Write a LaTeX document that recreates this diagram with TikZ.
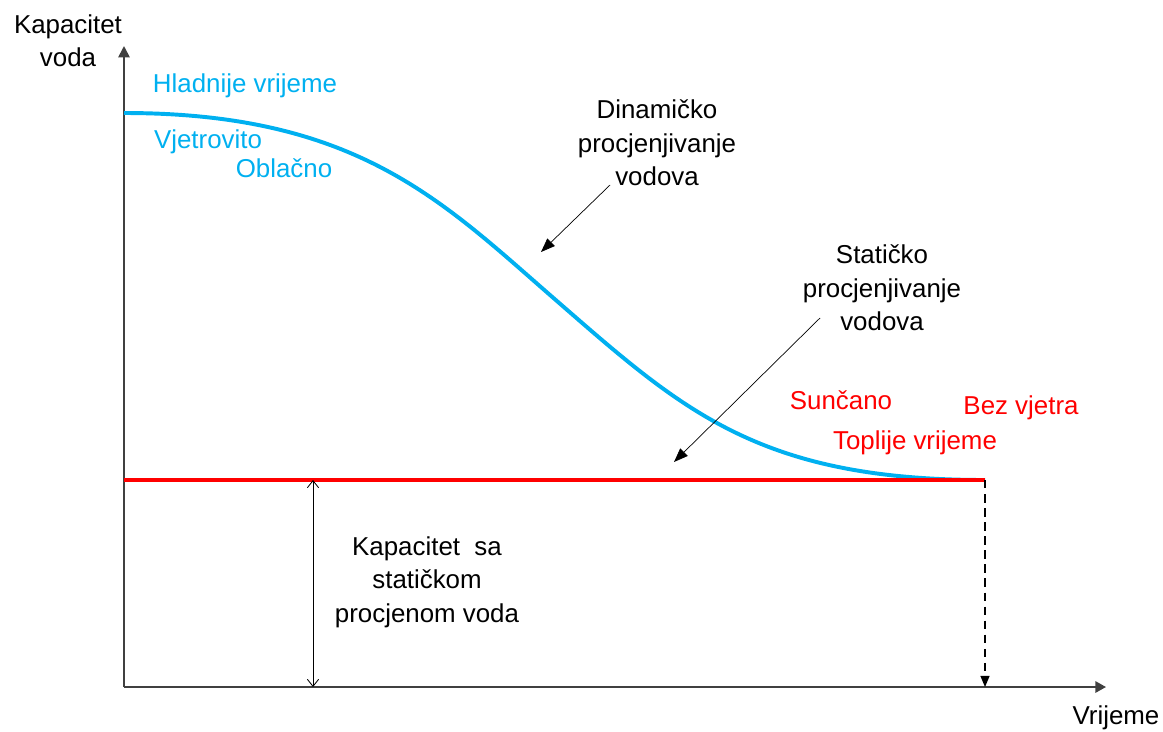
\documentclass[tikz,border=0pt]{standalone}
\usepackage{fontspec}
\setmainfont{Liberation Sans}
\usetikzlibrary{arrows.meta}
\definecolor{nebo}{HTML}{00B0F0}
\definecolor{osa}{HTML}{404040}

\begin{document}
\begin{tikzpicture}[x=0.025cm,y=-0.025cm,
    lbl/.style={font=\fontsize{18.4}{23.7}\selectfont,align=center,inner sep=0pt},
    pokaz/.style={-{Triangle[length=10pt,width=7.5pt]},line width=0.5pt}]
  \useasboundingbox (0,0) rectangle (1163,731);
  % osi
  \coordinate (o) at (124,687);
  \coordinate (ytop) at (124,46);
  \coordinate (xend) at (1106,687);
  \draw[osa,line width=1.2pt,-{Triangle[length=8pt,width=8pt]}] (o) -- (ytop);
  \draw[osa,line width=1.4pt,-{Triangle[length=7.5pt,width=8pt]}] (o) -- (xend);
  \node[lbl] (ylab) at (68,41) {Kapacitet\\voda};
  \node[lbl] (xlab) at (1116,718) {Vrijeme};
  % krivulje
  \coordinate (k0) at (124,113);
  \coordinate (k1) at (985,480);
  \coordinate (r0) at (124,480);
  \draw[nebo,line width=2.8pt] (k0) .. controls (354,113) and (440,199) .. (550,295)
    .. controls (680,408) and (755,480) .. (k1);
  \draw[red,line width=2.5pt] (r0) -- (k1);
  \draw[dashed,line width=0.8pt,dash pattern=on 6pt off 4pt,-{Triangle[length=8pt,width=6.5pt]}]
    (k1) -- (k1 |- o);
  % kapacitet sa staticnom procjenom
  \coordinate (d0) at (313,480);
  \draw[line width=0.6pt,{Straight Barb[length=5pt,width=8pt]}-{Straight Barb[length=5pt,width=8pt]}]
    (d0) -- (d0 |- o);
  \node[lbl] (stat) at (427,582) {Kapacitet\ \ sa\\statičkom\\procjenom voda};
  % oznake
  \node[lbl,nebo] (hlad) at (245,86) {Hladnije vrijeme};
  \node[lbl,nebo] (vjet) at (208,142) {Vjetrovito};
  \node[lbl,nebo] (obla) at (284,168) {Oblačno};
  \node[lbl,red] (sunc) at (841,400) {Sunčano};
  \node[lbl,red] (bezv) at (1021,408) {Bez vjetra};
  \node[lbl,red] (topl) at (915,443) {Toplije vrijeme};
  \node[lbl] (din) at (657,143) {Dinamičko\\procjenjivanje\\vodova};
  \node[lbl] (sta) at (882,288) {Statičko\\procjenjivanje\\vodova};
  \coordinate (p1) at (610,185);
  \coordinate (q1) at (541,252);
  \coordinate (p2) at (820,318);
  \coordinate (q2) at (674,462);
  \draw[pokaz] (p1) -- (q1);
  \draw[pokaz] (p2) -- (q2);
\end{tikzpicture}
\end{document}
